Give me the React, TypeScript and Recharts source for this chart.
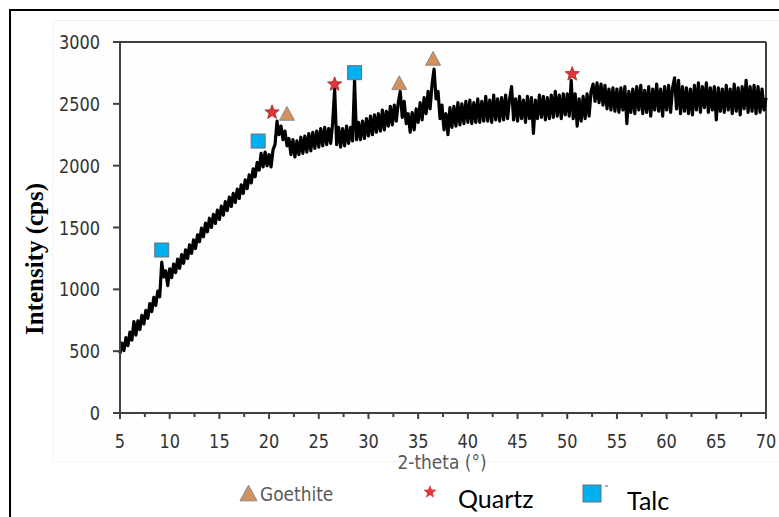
import React from 'react';
import {
  ComposedChart,
  Line,
  Scatter,
  XAxis,
  YAxis,
  ReferenceLine,
} from 'recharts';

// XRD scan, counts every 0.2 deg (one row per degree)
const scanStart = 5;
const scanStep = 0.2;
const intensity: number[] = [
  480, 565, 505, 610, 545, // 5
  655, 590, 740, 630, 745, // 6
  675, 790, 720, 830, 765, // 7
  885, 820, 935, 870, 985, // 8
  940, 1220, 1100, 1150, 1030, // 9
  1165, 1095, 1205, 1135, 1245, // 10
  1170, 1280, 1210, 1320, 1250, // 11
  1360, 1290, 1400, 1330, 1440, // 12
  1385, 1495, 1425, 1535, 1465, // 13
  1575, 1500, 1607, 1533, 1640, // 14
  1565, 1673, 1600, 1710, 1637, // 15
  1745, 1670, 1777, 1703, 1810, // 16
  1735, 1845, 1775, 1885, 1815, // 17
  1925, 1860, 1975, 1910, 2025, // 18
  1965, 2100, 1990, 2110, 2000, // 19
  2090, 1990, 2130, 2170, 2360, // 20
  2250, 2320, 2210, 2280, 2160, // 21
  2220, 2090, 2210, 2070, 2200, // 22
  2090, 2230, 2100, 2240, 2110, // 23
  2260, 2120, 2270, 2140, 2280, // 24
  2150, 2300, 2160, 2310, 2170, // 25
  2300, 2180, 2350, 2620, 2170, // 26
  2310, 2150, 2300, 2160, 2320, // 27
  2180, 2310, 2200, 2690, 2210, // 28
  2350, 2210, 2360, 2220, 2380, // 29
  2240, 2400, 2250, 2410, 2270, // 30
  2420, 2280, 2450, 2290, 2440, // 31
  2320, 2480, 2330, 2490, 2360, // 32
  2510, 2600, 2390, 2520, 2340, // 33
  2420, 2270, 2430, 2290, 2460, // 34
  2350, 2510, 2370, 2550, 2420, // 35
  2600, 2460, 2660, 2780, 2540, // 36
  2600, 2380, 2490, 2290, 2420, // 37
  2250, 2470, 2310, 2480, 2320, // 38
  2510, 2330, 2500, 2340, 2520, // 39
  2350, 2530, 2340, 2510, 2350, // 40
  2540, 2350, 2520, 2360, 2560, // 41
  2360, 2530, 2350, 2570, 2370, // 42
  2540, 2360, 2550, 2370, 2570, // 43
  2380, 2540, 2640, 2370, 2540, // 44
  2360, 2560, 2380, 2530, 2350, // 45
  2560, 2380, 2550, 2260, 2530, // 46
  2380, 2570, 2390, 2560, 2370, // 47
  2550, 2380, 2570, 2390, 2600, // 48
  2400, 2570, 2380, 2580, 2410, // 49
  2580, 2400, 2690, 2380, 2580, // 50
  2320, 2540, 2360, 2560, 2380, // 51
  2580, 2400, 2600, 2660, 2520, // 52
  2670, 2510, 2660, 2490, 2650, // 53
  2460, 2620, 2450, 2630, 2440, // 54
  2620, 2430, 2630, 2450, 2640, // 55
  2340, 2600, 2430, 2620, 2420, // 56
  2640, 2450, 2650, 2420, 2610, // 57
  2430, 2640, 2400, 2620, 2450, // 58
  2660, 2440, 2620, 2400, 2640, // 59
  2450, 2650, 2430, 2630, 2710, // 60
  2460, 2690, 2420, 2640, 2440, // 61
  2630, 2420, 2620, 2410, 2650, // 62
  2450, 2670, 2430, 2640, 2470, // 63
  2670, 2430, 2630, 2450, 2640, // 64
  2370, 2630, 2440, 2620, 2430, // 65
  2650, 2450, 2620, 2420, 2660, // 66
  2440, 2630, 2410, 2640, 2460, // 67
  2690, 2430, 2640, 2440, 2650, // 68
  2420, 2640, 2430, 2620, 2450, // 69
  2550, // 70
];

const goethitePeaks = [
  { angle: 21.8, counts: 2423 },
  { angle: 33.1, counts: 2671 },
  { angle: 36.5, counts: 2868 },
];
const quartzPeaks = [
  { angle: 20.3, counts: 2431 },
  { angle: 26.6, counts: 2658 },
  { angle: 50.5, counts: 2741 },
];
const talcPeaks = [
  { angle: 9.2, counts: 1318 },
  { angle: 18.9, counts: 2199 },
  { angle: 28.6, counts: 2752 },
];

const xTicks = [5, 7.5, 10, 12.5, 15, 17.5, 20, 22.5, 25, 27.5, 30, 32.5, 35, 37.5, 40, 42.5, 45, 47.5, 50, 52.5, 55, 57.5, 60, 62.5, 65, 67.5, 70];
const yTicks = [0, 500, 1000, 1500, 2000, 2500, 3000];

const pattern = intensity.map((counts, i) => ({
  angle: Number((scanStart + i * scanStep).toFixed(1)),
  counts,
}));

const AXIS = '#404040';
const FONT = "'DejaVu Sans', sans-serif";
const SQUEEZE = 0.85; // the source font is narrow, so squash DejaVu a bit

const GOETHITE = '#D4915C';
const QUARTZ = '#E3343A';
const TALC = '#00B0F0';

function triangle(cx: number, cy: number, s = 15) {
  const h = s * 0.92;
  return `${cx},${cy - h / 2} ${cx + s / 2},${cy + h / 2} ${cx - s / 2},${cy + h / 2}`;
}

function star(cx: number, cy: number, ro = 7.5, ri = 3.2) {
  const pts: string[] = [];
  for (let k = 0; k < 10; k++) {
    const r = k % 2 === 0 ? ro : ri;
    const a = -Math.PI / 2 + (k * Math.PI) / 5;
    pts.push(`${cx + r * Math.cos(a)},${cy + r * Math.sin(a)}`);
  }
  return pts.join(' ');
}

const TriangleMark = (p: any) => (
  <polygon points={triangle(p.cx, p.cy)} fill={GOETHITE} stroke="#8a8a8a" strokeWidth={1} />
);
const StarMark = (p: any) => (
  <polygon points={star(p.cx, p.cy)} fill={QUARTZ} stroke="#9b2a2a" strokeWidth={0.8} />
);
const SquareMark = (p: any) => (
  <rect x={p.cx - 7} y={p.cy - 7} width={14} height={14} fill={TALC} stroke="#707070" strokeWidth={1} />
);

function Label({ x, y, children, anchor = 'start', size = 19, fill = '#333' }: any) {
  return (
    <text
      transform={`translate(${x},${y}) scale(${SQUEEZE},1)`}
      textAnchor={anchor}
      fontSize={size}
      fill={fill}
      fontFamily={FONT}
    >
      {children}
    </text>
  );
}

const XTick = (props: any) => {
  const { x, y, payload } = props;
  const major = payload.value % 5 === 0;
  return (
    <g>
      <line x1={x} x2={x} y1={y} y2={y + (major ? 6 : 4)} stroke={AXIS} strokeWidth={2} />
      {major && (
        <Label x={x} y={y + 35} anchor="middle">
          {payload.value}
        </Label>
      )}
    </g>
  );
};

const YTick = (props: any) => {
  const { x, y, payload } = props;
  return (
    <Label x={x} y={y + 7} anchor="end">
      {payload.value}
    </Label>
  );
};

export default function App() {
  return (
    <div style={{ position: 'absolute', left: 0, top: 0, width: 779, height: 517, overflow: 'hidden', background: '#fff' }}>
      <div style={{ position: 'absolute', left: 9, top: 9, width: 800, height: 540, border: '2px solid #000' }} />
      <div style={{ position: 'absolute', left: 52, top: 20, width: 760, height: 440, border: '1px solid #f3f3f3', background: '#fefefe' }} />

      <div style={{ position: 'absolute', left: 0, top: 0 }}>
        <ComposedChart width={779} height={517} margin={{ top: 42, right: 13, bottom: 74, left: 60 }}>
          <XAxis
            type="number"
            dataKey="angle"
            domain={[5, 70]}
            ticks={xTicks}
            interval={0}
            tick={<XTick />}
            tickLine={false}
            tickSize={0}
            tickMargin={0}
            axisLine={{ stroke: AXIS, strokeWidth: 2 }}
            height={30}
          />
          <YAxis
            type="number"
            domain={[0, 3000]}
            ticks={yTicks}
            interval={0}
            width={60}
            tickSize={7}
            tickMargin={13}
            tickLine={{ stroke: AXIS, strokeWidth: 2 }}
            axisLine={{ stroke: AXIS, strokeWidth: 2 }}
            tick={<YTick />}
          />
          <ReferenceLine y={3000} stroke={AXIS} strokeWidth={2} />
          <ReferenceLine x={70} stroke={AXIS} strokeWidth={2} />
          <Line
            data={pattern}
            dataKey="counts"
            type="linear"
            stroke="#000"
            strokeWidth={3.2}
            strokeLinejoin="round"
            dot={false}
            isAnimationActive={false}
          />
          <Scatter data={goethitePeaks} dataKey="counts" shape={TriangleMark} isAnimationActive={false} />
          <Scatter data={quartzPeaks} dataKey="counts" shape={StarMark} isAnimationActive={false} />
          <Scatter data={talcPeaks} dataKey="counts" shape={SquareMark} isAnimationActive={false} />
        </ComposedChart>
      </div>

      <div
        style={{
          position: 'absolute',
          left: 35,
          top: 259,
          transform: 'translate(-50%, -50%) rotate(-90deg)',
          fontFamily: "'Liberation Serif', 'Times New Roman', serif",
          fontWeight: 'bold',
          fontSize: 25,
          whiteSpace: 'nowrap',
          color: '#000',
        }}
      >
        Intensity (cps)
      </div>

      <svg style={{ position: 'absolute', left: 0, top: 0 }} width={779} height={517}>
        <Label x={442} y={469} anchor="middle" size={20} fill="#595959">2-theta (°)</Label>
        <polygon points={triangle(248.5, 493, 17)} fill={GOETHITE} stroke="#8a8a8a" strokeWidth={1} />
        <Label x={260} y={501} size={20} fill="#595959">Goethite</Label>
        <polygon points={star(430, 492, 7, 3)} fill={QUARTZ} />
        <text x={458} y={508} fontSize={25} fill="#000" fontFamily="Lato, 'Open Sans', sans-serif">Quartz</text>
        <rect x={583} y={485} width={18} height={17} fill={TALC} stroke="#707070" strokeWidth={1} />
        <line x1={605} x2={608} y1={486} y2={486} stroke="#555" strokeWidth={1} />
        <text x={627} y={510} fontSize={25} fill="#000" fontFamily="Lato, 'Open Sans', sans-serif">Talc</text>
      </svg>
    </div>
  );
}
